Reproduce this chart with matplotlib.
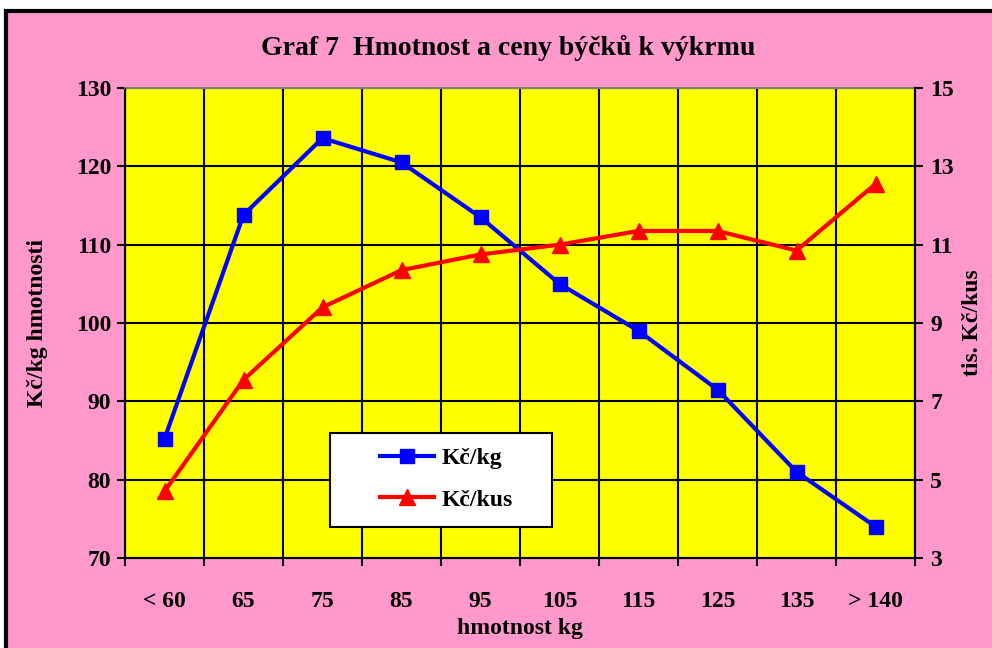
import matplotlib.pyplot as plt
from matplotlib.patches import Rectangle

# data
categories = ['< 60', '65', '75', '85', '95', '105', '115', '125', '135', '> 140']
kc_kg = [85.2, 113.8, 123.6, 120.5, 113.5, 105.0, 99.0, 91.5, 81.0, 74.0]
kc_kus = [4.7, 7.55, 9.4, 10.35, 10.75, 11.0, 11.35, 11.35, 10.85, 12.55]
left_ticks = [70, 80, 90, 100, 110, 120, 130]
right_ticks = [3, 5, 7, 9, 11, 13, 15]

pink = '#FF99CC'
yellow = '#FFFF00'
fs = 17

plt.rcParams['font.family'] = ['Liberation Serif', 'DejaVu Serif']
plt.rcParams['font.weight'] = 'bold'

fig = plt.figure(figsize=(9.92, 6.48), dpi=100, facecolor='white')
# pink chart area with black frame, runs off the right and bottom edges
fig.patches.append(Rectangle((6 / 992, -0.05), 1.1, 1 - 11 / 648 + 0.05,
                             transform=fig.transFigure, facecolor=pink,
                             edgecolor='black', linewidth=3, zorder=-5))

ax = fig.add_axes([125 / 992, 1 - 558 / 648, 790 / 992, 470 / 648])
ax.set_facecolor(yellow)
x = list(range(len(categories)))

ax.set_xlim(-0.5, len(categories) - 0.5)
ax.set_ylim(70, 130)
ax.set_yticks(left_ticks)
ax.set_xticks([i - 0.5 for i in range(len(categories) + 1)])
ax.set_xticklabels([])
ax.set_xticks(x, minor=True)
ax.set_xticklabels(categories, minor=True)
ax.tick_params(axis='x', which='minor', length=0, pad=24, labelsize=fs)
ax.tick_params(axis='x', which='major', length=6, width=1.5, direction='out')
ax.tick_params(axis='y', length=6, width=1.5, labelsize=fs, pad=4)
ax.grid(True, which='major', color='black', linewidth=1.5)
ax.set_axisbelow(True)
for s in ['left', 'right', 'bottom']:
    ax.spines[s].set_linewidth(1.5)
ax.spines['top'].set_color('#808080')
ax.spines['top'].set_linewidth(1.5)

l1, = ax.plot(x, kc_kg, color='#0000FF', linewidth=3, marker='s',
              markersize=10, zorder=3)

ax2 = ax.twinx()
ax2.set_ylim(3, 15)
ax2.set_yticks(right_ticks)
ax2.tick_params(axis='y', length=6, width=1.5, labelsize=fs, pad=5)
ax2.spines['right'].set_linewidth(1.5)
ax2.spines['top'].set_visible(False)
l2, = ax2.plot(x, kc_kus, color='#FF0000', linewidth=3, marker='^',
               markersize=11, zorder=3)

ax.set_ylabel('Kč/kg hmotnosti', fontsize=fs, fontweight='bold', labelpad=20)
ax2.set_ylabel('tis. Kč/kus', fontsize=fs, fontweight='bold', rotation=90, labelpad=6)
ax.set_xlabel('hmotnost kg', fontsize=fs, fontweight='bold', labelpad=4)

fig.text(508 / 992, 1 - 48 / 648, 'Graf 7  Hmotnost a ceny býčků k výkrmu',
         ha='center', va='center', fontsize=20, fontweight='bold')

# legend box drawn by hand, legend itself without frame
ax2.add_patch(Rectangle((205 / 790, 31 / 470), 222 / 790, 94 / 470,
                        transform=ax2.transAxes, facecolor='white',
                        edgecolor='black', linewidth=1.5, zorder=4))
leg = ax2.legend([l1, l2], ['Kč/kg', 'Kč/kus'], loc='center left',
                 bbox_to_anchor=(255 / 790, 79 / 470), frameon=False,
                 prop={'size': fs, 'weight': 'bold'}, handlelength=2.3,
                 handletextpad=0.3, labelspacing=0.85, borderpad=0,
                 borderaxespad=0)
leg.set_zorder(5)

fig.savefig('out.png', dpi=100, facecolor='white')
